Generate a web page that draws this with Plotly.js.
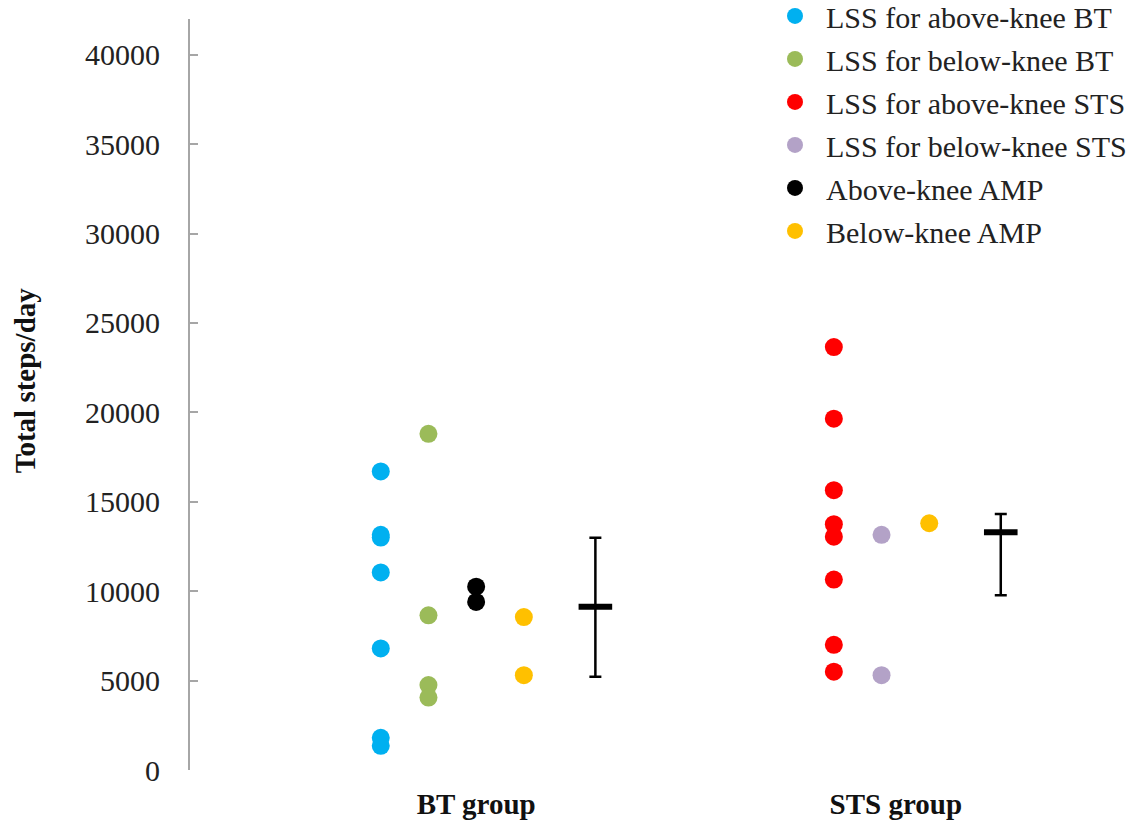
<!DOCTYPE html>
<html>
<head>
<meta charset="utf-8">
<script src="https://cdn.plot.ly/plotly-3.0.1.min.js"></script>
<style>html,body{margin:0;padding:0;background:#fff;}#chart{width:1134px;height:830px;}</style>
</head>
<body>
<div id="chart"></div>
<script>
// ---- data ----
var groupLabels = ["BT group", "STS group"];
var groupTickPos = [0, 8.8];

var lssAboveBT = [16700, 13150, 13000, 11050, 6800, 1800, 1350];
var lssBelowBT = [18800, 8650, 4750, 4050];
var lssAboveSTS = [23650, 19650, 15650, 13750, 13050, 10650, 7000, 5500];
var lssBelowSTS = [13150, 5300];
var aboveAMP = [10250, 9400];
var belowAMP_BT = [8550, 5300];
var belowAMP_STS = [13800];

var summaryCenter = [9130, 13300];
var summaryUpper = [12990, 14310];
var summaryLower = [5220, 9770];

var yTitle = "Total steps/day";

// slot positions along x (within-group columns)
var slot = {aboveBT: -2, belowBT: -1, aboveAMP: 0, belowAMP_BT: 1, sumBT: 2.5,
            aboveSTS: 7.5, belowSTS: 8.5, belowAMP_STS: 9.5, sumSTS: 11};

function rep(v, n){ var a=[]; for(var i=0;i<n;i++) a.push(v); return a; }

var FONT = "Liberation Serif";
var MS = 18;

function pts(name, xs, ys, color){
  return {type:"scatter", mode:"markers", name:name, legendgroup:name, x:xs, y:ys,
    marker:{color:color, size:MS, line:{width:0}}, hoverinfo:"y", cliponaxis:false};
}

var traces = [
  pts("LSS for above-knee BT", rep(slot.aboveBT, lssAboveBT.length), lssAboveBT, "#00B0F0"),
  pts("LSS for below-knee BT", rep(slot.belowBT, lssBelowBT.length), lssBelowBT, "#9BBB59"),
  pts("LSS for above-knee STS", rep(slot.aboveSTS, lssAboveSTS.length), lssAboveSTS, "#FF0000"),
  pts("LSS for below-knee STS", rep(slot.belowSTS, lssBelowSTS.length), lssBelowSTS, "#B3A2C7"),
  pts("Above-knee AMP", rep(slot.aboveAMP, aboveAMP.length), aboveAMP, "#000000"),
  pts("Below-knee AMP",
      rep(slot.belowAMP_BT, belowAMP_BT.length).concat(rep(slot.belowAMP_STS, belowAMP_STS.length)),
      belowAMP_BT.concat(belowAMP_STS), "#FFC000"),
  {type:"scatter", mode:"markers", showlegend:false, hoverinfo:"y",
   x:[slot.sumBT, slot.sumSTS], y:summaryCenter,
   marker:{symbol:"line-ew", size:24, color:"#000", line:{color:"#000", width:6}},
   error_y:{type:"data", symmetric:false,
            array: summaryUpper.map(function(u,i){return u-summaryCenter[i];}),
            arrayminus: summaryLower.map(function(l,i){return summaryCenter[i]-l;}),
            color:"#000", thickness:2.5, width:6}}
];

var layout = {
  width:1134, height:830,
  paper_bgcolor:"#fff", plot_bgcolor:"#fff",
  margin:{l:190, r:14, t:19, b:60, autoexpand:false},
  font:{family:FONT, color:"#222"},
  showlegend:true,
  legend:{x:0.6172, xanchor:"left", y:1.0387, yanchor:"top", bgcolor:"rgba(0,0,0,0)",
          traceorder:"grouped", tracegroupgap:1, itemwidth:52,
          font:{family:FONT, size:30, color:"#222"}},
  xaxis:{range:[-6, 13.5], showgrid:false, zeroline:false, showline:false,
         tickmode:"array", tickvals:groupTickPos, ticktext:groupLabels,
         ticks:"", ticklabelstandoff:14,
         tickfont:{family:FONT, size:29, color:"#111", weight:"bold"}},
  yaxis:{range:[0, 42000], showgrid:false, zeroline:false,
         showline:true, linecolor:"#A6A6A6", linewidth:2,
         ticks:"inside", ticklen:8, tickwidth:2, tickcolor:"#A6A6A6",
         tickmode:"linear", tick0:0, dtick:5000, tickformat:"d", ticklabelstandoff:22,
         tickfont:{family:FONT, size:30, color:"#222"}},
  annotations:[{text:"<b>" + yTitle + "</b>", xref:"paper", yref:"paper",
                x:-0.1774, y:0.519, xanchor:"center", yanchor:"middle",
                textangle:-90, showarrow:false,
                font:{family:FONT, size:29, color:"#111"}}]
};

Plotly.newPlot("chart", traces, layout, {displayModeBar:false, staticPlot:true});
</script>
</body>
</html>
